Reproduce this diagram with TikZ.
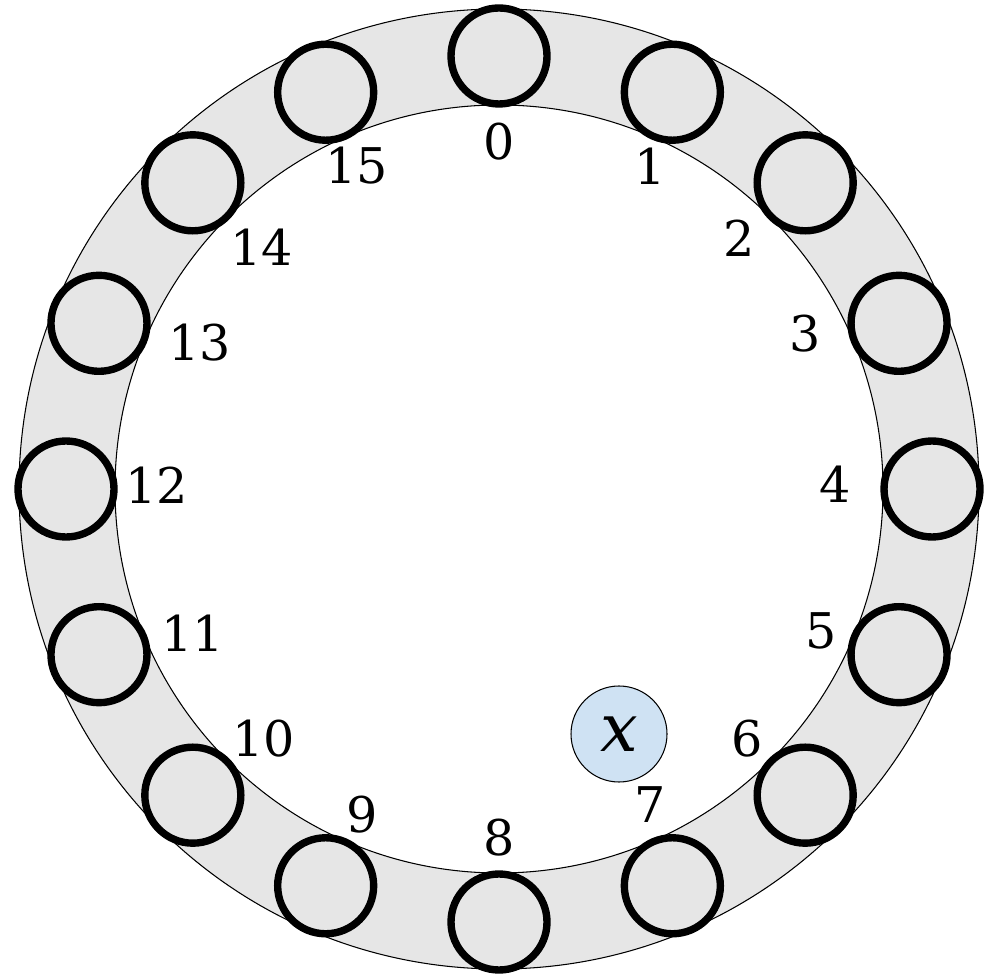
\documentclass[tikz,border=0pt]{standalone}
\usepackage{fontspec}
\setmainfont{DejaVu Serif}
\usetikzlibrary{positioning}

\definecolor{ringgray}{HTML}{E6E6E6}
\definecolor{xblue}{HTML}{CFE2F3}

\begin{document}
\begin{tikzpicture}[
		slot/.style={
			draw,
			circle,
			line width=2.1pt,
			minimum size=0.96cm,
			inner sep=0pt
		},
		num/.style={
			font=\fontsize{14}{16}\selectfont,
			inner sep=0pt
		},
		item/.style={
			draw,
			circle,
			fill=xblue,
			line width=0.3pt,
			minimum size=0.96cm,
			inner sep=0pt,
			font=\fontsize{19}{22}\selectfont\itshape
		}
		]
		
		\useasboundingbox (0,0) rectangle (9.88,9.76);
		\coordinate (o) at (4.99,4.87);
		
		% Ring
		\fill[ringgray, even odd rule] (o) circle (4.80) (o) circle (3.84);
		\draw[line width=0.3pt] (o) circle (4.80);
		\draw[line width=0.3pt] (o) circle (3.84);
		
		% Slots
		\foreach \i/\a in {0/90, 1/66.4, 2/45, 3/22.5, 4/0, 5/-22.5, 6/-45, 7/-66.4,
			8/-90, 9/-113.6, 10/-135, 11/-157.5, 12/180, 13/157.5, 14/135, 15/113.6} {
			\node[slot] (c\i) at ([shift={(\a:4.33)}]o) {};
		}
		
		% Slot numbers
		\foreach \i/\x/\y in {0/4.99/8.34, 1/6.50/8.10, 2/7.39/7.38, 3/8.05/6.42,
			4/8.35/4.92, 5/8.21/3.45, 6/7.47/2.37, 7/6.50/1.71,
			8/4.99/1.38, 9/3.62/1.61, 10/2.64/2.37, 11/1.93/3.43,
			12/1.57/4.91, 13/2.00/6.33, 14/2.62/7.29, 15/3.57/8.10} {
			\node[num] (l\i) at (\x,\y) {\i};
		}
		
		% Item
		\node[item] (x) at (6.19,2.42) {x};
		
	\end{tikzpicture}
\end{document}
